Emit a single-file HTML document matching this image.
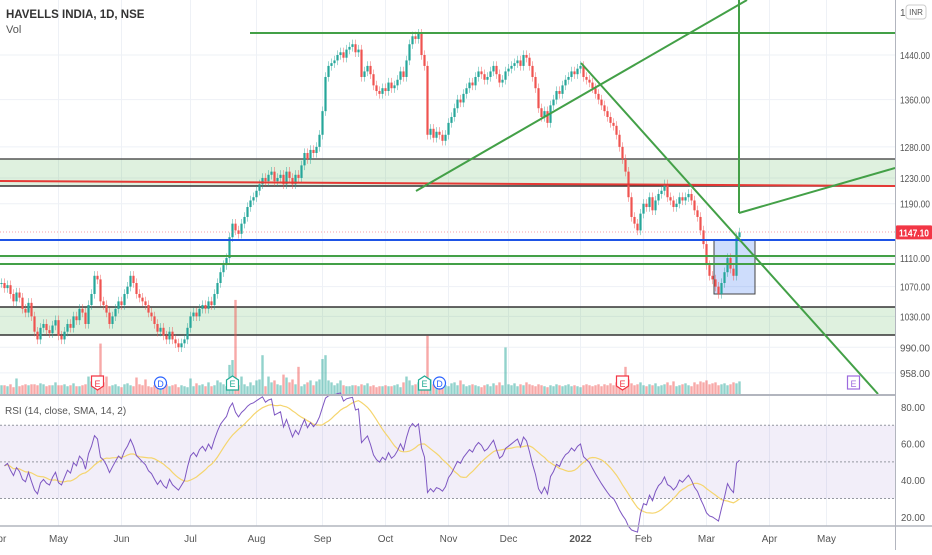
<!DOCTYPE html>
<html><head><meta charset="utf-8">
<style>
html,body{margin:0;padding:0;background:#fff;}
body{width:932px;height:550px;overflow:hidden;font-family:"Liberation Sans",sans-serif;}
svg text{font-family:"Liberation Sans",sans-serif;}
</style></head>
<body>
<svg id="chart" width="932" height="550" viewBox="0 0 932 550" xmlns="http://www.w3.org/2000/svg">
  <g id="grid"></g>
  <g id="zones">
    <rect x="0" y="159" width="895" height="27" fill="rgba(76,175,80,0.18)"/>
    <line x1="0" y1="159" x2="895" y2="159" stroke="#555" stroke-width="1.5"/>
    <line x1="0" y1="186" x2="895" y2="186" stroke="#333" stroke-width="1.5"/>
    <rect x="0" y="307" width="895" height="28" fill="rgba(76,175,80,0.18)"/>
    <line x1="0" y1="307" x2="895" y2="307" stroke="#333" stroke-width="1.5"/>
    <line x1="0" y1="335" x2="895" y2="335" stroke="#333" stroke-width="1.5"/>
    <rect x="714" y="240" width="41" height="54" fill="rgba(33,100,243,0.22)" stroke="#444" stroke-width="1"/>
  </g>
  <g id="vol"></g>
  <g id="candles"></g>
  <g id="draw">
    <line x1="250" y1="33" x2="895" y2="33" stroke="#43a047" stroke-width="2"/>
    <line x1="0" y1="181" x2="895" y2="186" stroke="#e53935" stroke-width="2"/>
    <line x1="0" y1="232" x2="895" y2="232" stroke="#f7a1a8" stroke-width="1" stroke-dasharray="1,2"/>
    <line x1="0" y1="240" x2="895" y2="240" stroke="#1e53e5" stroke-width="2"/>
    <line x1="0" y1="256" x2="895" y2="256" stroke="#43a047" stroke-width="2"/>
    <line x1="0" y1="264" x2="895" y2="264" stroke="#43a047" stroke-width="2"/>
    <line x1="416" y1="191" x2="747" y2="0" stroke="#43a047" stroke-width="2"/>
    <line x1="581" y1="63" x2="878" y2="394" stroke="#43a047" stroke-width="2"/>
    <line x1="739" y1="0" x2="739" y2="213" stroke="#43a047" stroke-width="2"/>
    <line x1="739" y1="213" x2="895" y2="168" stroke="#43a047" stroke-width="2"/>
  </g>
  <g id="events"></g>
  <g id="rsi"></g>
  <g id="axes"></g>
  <text x="6" y="18" font-size="11.5" font-weight="bold" fill="#333">HAVELLS INDIA, 1D, NSE</text>
  <text x="6" y="33" font-size="11" fill="#555">Vol</text>
  <text x="5" y="414" font-size="10" fill="#555">RSI (14, close, SMA, 14, 2)</text>
</svg>
<script>
const closes = [
1075,1068,1072,1060,1050,1062,1055,1040,1035,1048,
1030,1010,1000,1015,1020,1012,1008,1018,1025,1005,
1000,1010,1020,1015,1030,1025,1040,1035,1020,1045,
1060,1085,1080,1050,1045,1035,1020,1030,1040,1050,
1045,1060,1070,1085,1075,1060,1055,1050,1045,1035,
1030,1020,1010,1015,1005,1000,1010,1000,995,990,
995,1000,1015,1030,1035,1030,1040,1045,1040,1050,
1045,1060,1075,1090,1100,1110,1140,1160,1150,1145,
1160,1170,1185,1195,1200,1210,1220,1230,1225,1235,
1240,1225,1230,1235,1220,1240,1230,1220,1235,1230,
1250,1270,1260,1275,1270,1280,1300,1340,1400,1420,
1425,1430,1440,1445,1435,1450,1455,1460,1445,1450,
1400,1410,1420,1405,1385,1375,1370,1380,1375,1390,
1380,1385,1395,1410,1400,1430,1460,1475,1470,1480,
1440,1420,1300,1310,1295,1305,1300,1290,1300,1320,
1330,1345,1360,1355,1370,1380,1390,1385,1400,1410,
1405,1395,1400,1410,1420,1405,1390,1395,1410,1415,
1420,1425,1430,1420,1440,1435,1420,1400,1380,1345,
1330,1340,1320,1350,1360,1375,1370,1385,1395,1400,
1410,1405,1415,1420,1400,1395,1390,1380,1370,1360,
1350,1340,1330,1320,1315,1300,1280,1260,1240,1200,
1170,1160,1150,1175,1190,1185,1200,1180,1195,1205,
1210,1220,1200,1195,1185,1190,1200,1195,1200,1205,
1195,1180,1170,1150,1130,1100,1085,1080,1070,1060,
1075,1090,1110,1095,1085,1140,1147.1];
const volumes = [
9,9,8,10,7,16,8,9,10,9,
10,10,9,11,10,8,9,9,12,9,
9,10,8,9,11,8,8,9,10,18,
13,10,9,52,12,18,8,9,10,8,
7,10,11,9,8,17,10,9,15,8,
7,9,12,8,10,10,8,9,10,7,
9,8,7,16,8,11,9,10,8,12,
8,9,14,12,10,8,30,35,97,9,
18,10,8,12,9,14,15,40,8,18,
12,14,10,9,20,17,12,15,10,28,
8,10,12,14,9,13,15,36,40,14,
12,9,11,14,9,8,8,9,9,8,
10,9,11,8,9,7,8,8,9,8,
8,9,10,7,12,18,14,9,10,12,
9,11,60,15,10,8,9,10,9,8,
11,12,9,14,10,8,9,10,9,8,
7,9,10,8,11,9,12,9,48,10,
9,11,8,10,9,12,10,9,8,10,
9,8,7,9,8,10,9,8,9,10,
8,9,8,7,9,10,9,8,9,10,
8,10,9,11,9,12,10,9,28,15,
11,9,10,12,9,8,10,9,11,8,
9,10,12,9,13,8,9,10,11,9,
8,12,10,13,12,14,10,11,12,9,
10,11,9,10,12,11,13];
const priceTicks = [1440,1360,1280,1230,1190,1110,1070,1030,990,958];
const rsiTicks = [80,60,40,20];
const monthLabels = ["Apr","May","Jun","Jul","Aug","Sep","Oct","Nov","Dec","2022","Feb","Mar","Apr","May"];
const monthIndex = [-1,19,40,63,85,107,128,149,169,193,214,235,256,275];
const events = [["E",32,"red"],["D",53,"blue"],["E",77,"green"],["E",141,"green"],["D",146,"blue"],["E",207,"red"],["E",284,"purple"]];

const NS="http://www.w3.org/2000/svg";
function mk(tag,attrs,parent){const e=document.createElementNS(NS,tag);for(const k in attrs)e.setAttribute(k,attrs[k]);parent.appendChild(e);return e;}
const X = i => 1.5 + i*3.0;
const Y = p => 55 + (Math.log(1440) - Math.log(p))*780;
const VY = v => 394 - v*0.97;
const RY = v => 407 + (80 - v)*1.83;
const UP="#26a69a", DN="#ef5350";

const grid=document.getElementById('grid');
monthIndex.forEach((mi,k)=>{const g=mk('line',{x1:X(mi),x2:X(mi),y1:0,y2:526,stroke:'#eef1f6','stroke-width':1},grid);

});
priceTicks.forEach(p=>{const g=mk('line',{x1:0,x2:895,y1:Y(p),y2:Y(p),stroke:'#eef1f6','stroke-width':1},grid);

});

const vol=document.getElementById('vol');
closes.forEach((c,i)=>{const o=i?closes[i-1]:c;const up=c>=o;
const r=mk('rect',{x:X(i)-1.2,y:VY(volumes[i]),width:2.4,height:394-VY(volumes[i]),fill:up?'rgba(38,166,154,0.5)':'rgba(239,83,80,0.5)'},vol);

});

const cg=document.getElementById('candles');
closes.forEach((c,i)=>{const o=i?closes[i-1]:c;const up=c>=o;const col=up?UP:DN;
const hi=Math.max(o,c)*1.006, lo=Math.min(o,c)*0.994;
const w=mk('line',{x1:X(i),x2:X(i),y1:Y(hi),y2:Y(lo),stroke:col,'stroke-opacity':0.45,'stroke-width':1},cg);


const t=Math.min(Y(o),Y(c)),h=Math.max(1,Math.abs(Y(o)-Y(c)));
const b=mk('rect',{x:X(i)-1.1,y:t,width:2.2,height:h,fill:col},cg);

});

const eg=document.getElementById('events');
const ecol={red:'#f23645',blue:'#2962ff',green:'#22ab94',purple:'#9c6ade'};
events.forEach(ev=>{const x=X(ev[1]),c=ecol[ev[2]];let s;
if(ev[0]==='D'){s=mk('circle',{cx:x,cy:383,r:6,fill:'#fff',stroke:c,'stroke-width':1.2},eg);}
else if(ev[2]==='red'){s=mk('path',{d:`M${x-6},376 h12 v10 l-6,4 l-6,-4 z`,fill:'#fff',stroke:c,'stroke-width':1.2},eg);}
else if(ev[2]==='purple'){s=mk('rect',{x:x-6,y:376,width:12,height:13,fill:'#fff',stroke:c,'stroke-width':1.2},eg);}
else {s=mk('path',{d:`M${x-6},380 l6,-4 l6,4 v10 h-12 z`,fill:'#fff',stroke:c,'stroke-width':1.2},eg);}


const t=mk('text',{x:x,y:387,'font-size':9,'text-anchor':'middle',fill:c},eg);t.textContent=ev[0];

});

// RSI from closes: Wilder smoothing, seeded with neutral averages so the line starts at the left edge
const rsiVals=[];let ag=6,al=6;
for(let i=1;i<closes.length;i++){const d=closes[i]-closes[i-1];const g=Math.max(d,0),l=Math.max(-d,0);
ag=(ag*13+g)/14;al=(al*13+l)/14;
rsiVals[i]= al===0?100:100-100/(1+ag/al);}
const smaVals=[];for(let i=1;i<closes.length;i++){let s=0,n=0;for(let j=Math.max(1,i-13);j<=i;j++){s+=rsiVals[j];n++;}smaVals[i]=s/n;}
const rg=document.getElementById('rsi');
const band=mk('rect',{x:0,y:RY(70),width:895,height:RY(30)-RY(70),fill:'rgba(126,87,194,0.1)'},rg);


[70,50,30].forEach(v=>{const l=mk('line',{x1:0,x2:895,y1:RY(v),y2:RY(v),stroke:'#9598a1','stroke-width':1,'stroke-dasharray':'2,2'},rg);

});
let pr='',ps='';for(let i=1;i<closes.length;i++){pr+=(pr?'L':'M')+X(i).toFixed(1)+','+RY(rsiVals[i]).toFixed(1);ps+=(ps?'L':'M')+X(i).toFixed(1)+','+RY(smaVals[i]).toFixed(1);}
const sl=mk('path',{d:ps,fill:'none',stroke:'#f5d56e','stroke-width':1.2},rg);


const rl=mk('path',{d:pr,fill:'none',stroke:'#7e57c2','stroke-width':1},rg);



const ax=document.getElementById('axes');
const a1=mk('line',{x1:895.5,x2:895.5,y1:0,y2:550,stroke:'#b2b5be','stroke-width':1},ax);


const a2=mk('line',{x1:0,x2:895,y1:395,y2:395,stroke:'#b2b5be','stroke-width':2},ax);


const a3=mk('line',{x1:0,x2:932,y1:526,y2:526,stroke:'#b2b5be','stroke-width':1.5},ax);


priceTicks.forEach(p=>{const t=mk('text',{x:900,y:Y(p)+4,'font-size':10,fill:'#555',textLength:30,lengthAdjust:'spacingAndGlyphs'},ax);t.textContent=p.toFixed(2);

});
rsiTicks.forEach(v=>{const t=mk('text',{x:901,y:RY(v)+4,'font-size':10,fill:'#555',textLength:24,lengthAdjust:'spacingAndGlyphs'},ax);t.textContent=v.toFixed(2);

});
monthLabels.forEach((m,k)=>{const t=mk('text',{x:X(monthIndex[k]),y:542,'font-size':10,'text-anchor':'middle',fill:'#555','font-weight':m==='2022'?'bold':'normal'},ax);t.textContent=m;

});
const last=closes[closes.length-1];
const pb=mk('rect',{x:896,y:Y(last)-7,width:36,height:14,fill:'#f23645',rx:1},ax);


const pt=mk('text',{x:899,y:Y(last)+4,'font-size':10,fill:'#fff','font-weight':'bold',textLength:30,lengthAdjust:'spacingAndGlyphs'},ax);pt.textContent=last.toFixed(2);


const ib=mk('rect',{x:906,y:5,width:20,height:14,fill:'#fff',stroke:'#ccc',rx:3},ax);


const it=mk('text',{x:916,y:15,'font-size':8,'text-anchor':'middle',fill:'#555'},ax);it.textContent='INR';


const i1=mk('text',{x:900,y:16,'font-size':10,fill:'#555'},ax);i1.textContent='1';


</script>
</body></html>
